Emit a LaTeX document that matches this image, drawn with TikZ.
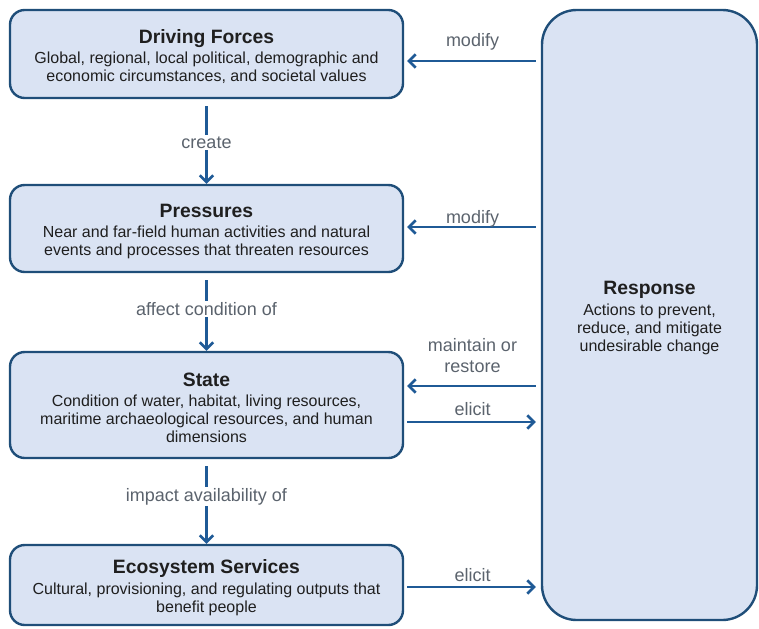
\documentclass[tikz,border=0pt]{standalone}
\usepackage{fontspec}
\setmainfont{Liberation Sans}
\usepackage{tikz}
\usetikzlibrary{arrows.meta,calc}

\definecolor{boxfill}{HTML}{DAE3F3}
\definecolor{boxline}{HTML}{1F4E79}
\definecolor{flowline}{HTML}{1F5A96}
\definecolor{labeltext}{HTML}{5B636D}

\tikzset{
    stage/.style={draw=boxline, fill=boxfill, line width=1.8pt, rounded corners=11pt,
        align=center, text=black!88, font=\fontsize{12}{13.5}\selectfont,
        inner sep=0pt, minimum width=294.75pt},
    flow/.style={draw=flowline, line width=2pt, -{Straight Barb[length=5pt,width=10pt]}},
    flowlabel/.style={text=labeltext, font=\fontsize{13.5}{15.5}\selectfont,
        inner sep=1pt, align=center},
}
\newcommand{\stagetitle}[1]{{\fontsize{14.5}{15}\selectfont\bfseries\rule{0pt}{14.5pt}#1}\\[2pt]}

\begin{document}
\begin{tikzpicture}[x=0.75pt, y=-0.75pt]
    \useasboundingbox (0,0) rectangle (759,628);

    \node[stage, minimum height=66pt] (drivers) at (206.5,54)
        {\stagetitle{Driving Forces}Global, regional, local political, demographic and\\economic circumstances, and societal values};
    \node[stage, minimum height=65.25pt] (pressures) at (206.5,228.5)
        {\stagetitle{Pressures}Near and far-field human activities and natural\\events and processes that threaten resources};
    \node[stage, minimum height=79.5pt] (state) at (206.5,405)
        {\stagetitle{State}Condition of water, habitat, living resources,\\maritime archaeological resources, and human\\dimensions};
    \node[stage, minimum height=60pt] (services) at (206.5,585)
        {\stagetitle{Ecosystem Services}Cultural, provisioning, and regulating outputs that\\benefit people};
    \node[stage, minimum height=457.5pt, minimum width=161.25pt, rounded corners=26pt] (response) at (649.5,315)
        {\stagetitle{Response}Actions to prevent,\\reduce, and mitigate\\undesirable change};

    \foreach \a/\b/\t/\p in {drivers/pressures/create/0.51, pressures/state/affect condition of/0.46, state/services/impact availability of/0.44} {
        \draw[flow, shorten <=5.25pt] (\a.south) -- (\b.north)
            node[flowlabel, fill=white, pos=\p] {\t};
    }

    \draw[flow, shorten <=3.75pt, shorten >=2.25pt] (response.west |- 0,61) -- (drivers.east |- 0,61)
        node[flowlabel, midway, above=5.75pt] {modify};
    \draw[flow, shorten <=3.75pt, shorten >=2.25pt] (response.west |- 0,227) -- (pressures.east |- 0,227)
        node[flowlabel, midway, above=-2.5pt] {modify};
    \draw[flow, shorten <=3.75pt, shorten >=2.25pt] (response.west |- 0,386) -- (state.east |- 0,386)
        node[flowlabel, midway, above=8pt] {maintain or\\restore};
    \draw[flow, shorten <=2.25pt, shorten >=3.75pt] (state.east |- 0,422) -- (response.west |- 0,422)
        node[flowlabel, midway, above=3pt] {elicit};
    \draw[flow, shorten <=2.25pt, shorten >=3.75pt] (services.east |- 0,587) -- (response.west |- 0,587)
        node[flowlabel, midway, above=2pt] {elicit};

\end{tikzpicture}
\end{document}
